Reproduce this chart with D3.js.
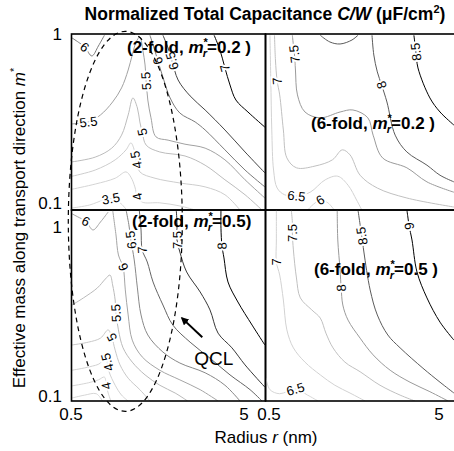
<!DOCTYPE html>
<html>
<head>
<meta charset="utf-8">
<script src="https://cdnjs.cloudflare.com/ajax/libs/d3/7.8.5/d3.min.js"></script>
<style>
  body { margin: 0; background: #fff; }
  svg text { font-family: "Liberation Sans", Arial, sans-serif; }
</style>
</head>
<body>
<div id="chart"></div>
<script>

// axis ticks
const rTicks = [0.5, 5];
const mTicks = [0.1, 1];

// contour lines: [radius r (nm), m*]
// (2-fold, m*r = 0.2)
const linesA = [
	{level: 3.5, pts: [[.507,.096],[.64,.100],[.77,.107],[.85,.109],[.96,.103],[1.05,.0934]]},
	{level: 4, pts: [[.507,.124],[.69,.133],[.90,.144],[1.04,.157],[1.11,.146],[1.17,.128],[1.21,.112],[1.29,.104],[1.63,.103],[2.13,.0987],[2.61,.0934]]},
	{level: 4.5, pts: [[.507,.148],[.69,.161],[.90,.185],[1.04,.212],[1.11,.233],[1.16,.212],[1.19,.185],[1.25,.157],[1.53,.144],[2.13,.135],[2.98,.128],[3.88,.115],[4.74,.0934]]},
	{level: 5, pts: [[.507,.180],[.69,.192],[.86,.217],[.98,.259],[1.07,.341],[1.14,.430],[1.21,.375],[1.25,.310],[1.29,.270],[1.36,.226],[1.63,.206],[2.28,.195],[2.98,.172],[3.88,.141],[5.07,.115],[6.35,.0934]]},
	{level: 5.5, pts: [[.507,.302],[.63,.310],[.74,.341],[.87,.407],[.98,.493],[1.07,.629],[1.13,.772],[1.19,.922],[1.25,.987],[1.30,.827],[1.34,.674],[1.36,.542],[1.39,.418],[1.45,.328],[1.55,.253],[1.82,.242],[2.28,.229],[2.98,.217],[3.88,.185],[5.07,.141],[6.6,.110]]},
	{level: 6, pts: [[.507,.974],[.56,.909],[.60,.861],[.66,.762],[.72,.873],[.78,1.01]]},
	{level: 6, pts: [[1.43,1.01],[1.51,.850],[1.59,.712],[1.72,.549],[1.87,.430],[2.13,.350],[2.61,.310],[2.98,.278],[3.88,.212],[5.07,.161],[6.6,.128]]},
	{level: 6.5, pts: [[1.70,1.01],[1.82,.850],[1.92,.712],[2.08,.549],[2.44,.442],[2.98,.365],[3.88,.278],[5.07,.206],[6.6,.155]]},
	{level: 7, pts: [[3.36,1.01],[3.63,.827],[3.88,.647],[4.15,.513],[4.49,.418],[5.27,.355],[6.6,.289]]}
];
const labelsA = [[3.5,.85,.109],[4,1.21,.112],[4.5,1.19,.185],[5,1.29,.270],[5.5,.63,.310],[5.5,1.36,.542],[6,.60,.861],[6,1.59,.712],[6.5,1.92,.712],[7,3.88,.647]];

// (6-fold, m*r = 0.2)
const linesB = [
	{level: 6, pts: [[.87,.0934],[.94,.101],[1.03,.107],[1.14,.103],[1.24,.0934]]},
	{level: 6.5, pts: [[.527,1.01],[.533,.549],[.54,.278],[.553,.161],[.58,.126],[.64,.115],[.75,.113],[.90,.119],[1.10,.141],[1.30,.148],[1.49,.131],[1.67,.107],[1.79,.0934]]},
	{level: 7, pts: [[.56,1.01],[.567,.721],[.58,.542],[.60,.448],[.63,.278],[.66,.190],[.75,.166],[.96,.170],[1.21,.185],[1.38,.212],[1.53,.198],[1.75,.150],[2.2,.126],[3.26,.110],[6.1,.0973]]},
	{level: 7.5, pts: [[.71,1.01],[.72,.885],[.73,.783],[.74,.629],[.76,.448],[.84,.355],[1.03,.328],[1.34,.355],[1.59,.365],[1.94,.328],[2.08,.259],[2.36,.190],[3.26,.166],[4.26,.137],[6.1,.119]]},
	{level: 8, pts: [[1.03,1.01],[1.17,.922],[1.34,.897],[1.57,.947],[1.70,1.01]]},
	{level: 8, pts: [[2.05,1.01],[2.1,.772],[2.2,.613],[2.33,.513],[2.5,.407],[2.79,.259],[3.26,.206],[4.26,.172],[5.07,.150],[6.1,.137]]},
	{level: 8.5, pts: [[3.58,1.01],[3.68,.805],[3.78,.647],[4.43,.430],[5.07,.355],[6.1,.297]]}
];
const labelsB = [[6,1.03,.107],[6.5,.75,.113],[7,.58,.542],[7.5,.73,.783],[8,2.33,.513],[8.5,3.68,.805]];

// (2-fold, m*r = 0.5)
const linesC = [
	{level: 3.5, pts: [[.507,.100],[.60,.104],[.70,.106],[.76,.096]]},
	{level: 4, pts: [[.507,.118],[.63,.123],[.72,.128],[.78,.133],[.80,.118],[.82,.107],[.85,.096]]},
	{level: 4.5, pts: [[.507,.146],[.64,.153],[.74,.161],[.79,.180],[.81,.163],[.83,.143],[.90,.119],[.98,.104],[1.07,.096]]},
	{level: 5, pts: [[.507,.206],[.63,.214],[.74,.226],[.82,.253],[.86,.229],[.90,.192],[.96,.157],[1.07,.131],[1.25,.112],[1.43,.096]]},
	{level: 5.5, pts: [[.507,.355],[.59,.391],[.71,.448],[.79,.506],[.84,.534],[.87,.467],[.90,.380],[.91,.318],[.94,.253],[1.0,.198],[1.13,.163],[1.34,.137],[1.63,.119],[2.0,.107],[2.36,.096]]},
	{level: 6, pts: [[.507,1.23],[.547,1.18],[.61,1.11],[.67,.987],[.74,1.10],[.82,1.26]]},
	{level: 6, pts: [[.87,1.30],[.91,.922],[.94,.702],[1.0,.596],[1.03,.436],[1.07,.310],[1.13,.220],[1.29,.175],[1.63,.146],[2.13,.128],[2.79,.112],[3.54,.096]]},
	{level: 6.5, pts: [[1.04,1.30],[1.08,1.06],[1.11,.861],[1.16,.656],[1.21,.448],[1.27,.310],[1.39,.236],[1.70,.187],[2.13,.161],[2.98,.141],[3.88,.119],[4.74,.096]]},
	{level: 7, pts: [[1.24,1.30],[1.27,.987],[1.29,.752],[1.38,.638],[1.49,.486],[1.70,.355],[1.94,.270],[2.44,.214],[3.18,.172],[4.15,.137],[5.42,.112],[6.35,.096]]},
	{level: 7.5, pts: [[2.03,1.30],[2.05,1.06],[2.05,.861],[2.13,.731],[2.33,.557],[2.79,.424],[3.18,.332],[3.54,.242],[4.26,.198],[5.07,.157],[6.6,.116]]},
	{level: 8, pts: [[3.68,1.30],[3.68,1.01],[3.73,.794],[3.83,.674],[4.04,.486],[4.61,.370],[5.57,.270],[6.6,.206]]}
];
const labelsC = [[4,.80,.118],[4.5,.81,.163],[5,.86,.229],[5.5,.91,.318],[6,.61,1.11],[6,1.0,.596],[6.5,1.11,.861],[7,1.29,.752],[7.5,2.05,.861],[8,3.73,.794]];

// (6-fold, m*r = 0.5)
const linesD = [
	{level: 6.5, pts: [[.50,.131],[.527,.112],[.60,.106],[.74,.113],[.87,.104],[1.0,.096]]},
	{level: 7, pts: [[.574,1.30],[.574,.861],[.574,.638],[.60,.534],[.63,.380],[.66,.253],[.72,.198],[.84,.163],[1.03,.137],[1.25,.119],[1.53,.107],[1.87,.096]]},
	{level: 7.5, pts: [[.70,1.30],[.71,1.10],[.71,.947],[.72,.752],[.75,.513],[.79,.391],[.92,.332],[1.03,.297],[1.11,.242],[1.22,.198],[1.43,.163],[1.75,.143],[2.28,.119],[2.98,.104],[3.63,.096]]},
	{level: 8, pts: [[1.29,1.30],[1.30,.861],[1.34,.573],[1.36,.448],[1.39,.355],[1.49,.289],[1.75,.226],[2.08,.180],[2.61,.146],[3.40,.124],[4.43,.109],[5.64,.096]]},
	{level: 8.5, pts: [[1.70,1.30],[1.75,1.06],[1.79,.909],[1.84,.731],[2.0,.436],[2.2,.310],[2.53,.236],[2.98,.198],[4.04,.150],[5.07,.124],[6.1,.107]]},
	{level: 9, pts: [[3.26,1.30],[3.31,1.16],[3.36,1.04],[3.49,.861],[3.73,.557],[4.26,.391],[5.07,.281],[6.1,.220]]}
];
const labelsD = [[6.5,.74,.113],[7,.574,.638],[7.5,.71,.947],[8,1.36,.448],[8.5,1.79,.909],[9,3.36,1.04]];


/*
 * ContourPanel - one of the four log-log panels
 */
class ContourPanel {

	constructor(svg, cfg) {
		this.svg = svg;
		this.cfg = cfg;
		this.initVis();
	}

	initVis() {
		let vis = this;
		let c = vis.cfg;

		// log scales, one decade = 173 px in r and 169 px in m
		vis.x = d3.scaleLog().domain([0.5, 5]).range([c.x0, c.x0 + 173]);
		vis.y = d3.scaleLog().domain([0.1, 1]).range([c.y0, c.y0 - 169]);

		// grey map per panel: low levels light, top level black
		let t = d3.scaleLinear().domain(c.range).range([0, 1]).clamp(true);
		let grey = d3.interpolateRgb("#d6d6d6", "#000");
		vis.color = lv => grey(Math.pow(t(lv), 2.5));

		vis.svg.append("clipPath").attr("id", "clip" + c.id)
			.append("rect")
			.attr("x", c.box[0]).attr("y", c.box[1])
			.attr("width", c.box[2] - c.box[0]).attr("height", c.box[3] - c.box[1]);

		vis.g = vis.svg.append("g").attr("clip-path", "url(#clip" + c.id + ")");

		vis.line = d3.line()
			.x(d => vis.x(d[0]))
			.y(d => vis.y(d[1]))
			.curve(d3.curveCatmullRom.alpha(0.5));

		vis.updateVis();
	}

	updateVis() {
		let vis = this;
		let c = vis.cfg;

		vis.g.selectAll(".cline")
			.data(c.lines)
			.enter()
			.append("path")
			.attr("class", "cline")
			.attr("d", d => vis.line(d.pts))
			.attr("fill", "none")
			.attr("stroke", d => vis.color(d.level))
			.attr("stroke-width", 1);

		vis.g.selectAll(".clabel")
			.data(c.labels)
			.enter()
			.append("text")
			.attr("class", "clabel")
			.attr("transform", d => {
				let px = vis.x(d[1]), py = vis.y(d[2]);
				return "translate(" + px + "," + py + ") rotate(" + vis.labelAngle(d, px, py) + ")";
			})
			.attr("text-anchor", "middle")
			.attr("dy", "0.35em")
			.attr("font-size", 13)
			.attr("fill", "#000")
			.attr("stroke", "#fff")
			.attr("stroke-width", 4)
			.attr("paint-order", "stroke")
			.text(d => d[0]);

		// panel frame
		vis.svg.append("rect")
			.attr("x", c.box[0]).attr("y", c.box[1])
			.attr("width", c.box[2] - c.box[0]).attr("height", c.box[3] - c.box[1])
			.attr("fill", "none")
			.attr("stroke", "#000")
			.attr("stroke-width", 1.6);

		// panel caption
		let tt = vis.svg.append("text")
			.attr("x", c.title[0]).attr("y", c.title[1])
			.attr("font-weight", "bold")
			.attr("font-size", 17);
		tt.append("tspan").text("(" + c.title[2] + ", ");
		tt.append("tspan").attr("font-style", "italic").text("m");
		tt.append("tspan").attr("font-size", 11).attr("dy", -7).text("*");
		tt.append("tspan").attr("font-size", 11).attr("font-style", "italic").attr("dx", -5).attr("dy", 11).text("r");
		tt.append("tspan").attr("dy", -4).text(c.title[3]);
	}

	// direction of the contour under a label (nearest segment, screen space)
	labelAngle(lab, px, py) {
		let vis = this;
		let best = Infinity, ang = 0;
		vis.cfg.lines.filter(l => l.level === lab[0]).forEach(l => {
			for (let i = 0; i < l.pts.length - 1; i++) {
				let ax = vis.x(l.pts[i][0]), ay = vis.y(l.pts[i][1]);
				let bx = vis.x(l.pts[i + 1][0]), by = vis.y(l.pts[i + 1][1]);
				let dx = bx - ax, dy = by - ay;
				let t = Math.max(0, Math.min(1, ((px - ax) * dx + (py - ay) * dy) / (dx * dx + dy * dy)));
				let dd = Math.hypot(ax + t * dx - px, ay + t * dy - py);
				if (dd < best) { best = dd; ang = Math.atan2(dy, dx) * 180 / Math.PI; }
			}
		});
		if (ang > 90) ang -= 180;
		if (ang < -90) ang += 180;
		if (ang > 55) ang -= 180;
		return ang;
	}
}


let svg = d3.select("#chart").append("svg")
	.attr("width", 454)
	.attr("height", 451);

let panelCfg = [
	{id: "A", lines: linesA, labels: labelsA, range: [3.5, 7], x0: 71, y0: 205, box: [71.5, 34, 265.5, 210], title: [127, 53, "2-fold", "=0.2 )"]},
	{id: "B", lines: linesB, labels: labelsB, range: [6, 8.5], x0: 266, y0: 205, box: [265.5, 34, 462, 210], title: [311, 129, "6-fold", "=0.2 )"]},
	{id: "C", lines: linesC, labels: labelsC, range: [3.5, 8], x0: 71, y0: 398, box: [71.5, 210, 265.5, 401], title: [132, 227, "2-fold", "=0.5)"]},
	{id: "D", lines: linesD, labels: labelsD, range: [6.5, 9], x0: 266, y0: 398, box: [265.5, 210, 462, 401], title: [314, 275, "6-fold", "=0.5 )"]}
];

let panels = panelCfg.map(c => new ContourPanel(svg, c));

// y tick labels (left panels)
[panels[0], panels[2]].forEach(p => {
	svg.selectAll(null)
		.data(mTicks)
		.enter()
		.append("text")
		.attr("x", 62)
		.attr("y", d => p.y(d) - 2)
		.attr("dy", "0.35em")
		.attr("text-anchor", "end")
		.attr("font-size", 17)
		.text(d => d);
});

// x tick labels (bottom panels)
[panels[2], panels[3]].forEach((p, i) => {
	svg.selectAll(null)
		.data(rTicks)
		.enter()
		.append("text")
		.attr("x", d => p.x(d) + (i === 1 && d === 0.5 ? 3 : 0))
		.attr("y", 420)
		.attr("text-anchor", "middle")
		.attr("font-size", 17)
		.text(d => d);
});

// dashed ellipse around the QCL region
let pc = panels[2];
svg.append("ellipse")
	.attr("cx", pc.x(1.03))
	.attr("cy", pc.y(1.11))
	.attr("rx", 57)
	.attr("ry", 190)
	.attr("fill", "none")
	.attr("stroke", "#000")
	.attr("stroke-width", 1.2)
	.attr("stroke-dasharray", "5,4");

// QCL arrow
svg.append("defs").append("marker")
	.attr("id", "head")
	.attr("viewBox", "0 0 10 10")
	.attr("refX", 8).attr("refY", 5)
	.attr("markerWidth", 4).attr("markerHeight", 4)
	.attr("orient", "auto")
	.append("path").attr("d", "M0,0L10,5L0,10z").attr("fill", "#000");

svg.append("line")
	.attr("x1", pc.x(2.87)).attr("y1", pc.y(0.229))
	.attr("x2", pc.x(2.19)).attr("y2", pc.y(0.297))
	.attr("stroke", "#000")
	.attr("stroke-width", 2)
	.attr("marker-end", "url(#head)");

svg.append("text")
	.attr("x", pc.x(2.58)).attr("y", pc.y(0.157))
	.attr("font-size", 19)
	.text("QCL");

// main title
let title = svg.append("text")
	.attr("x", 265).attr("y", 20)
	.attr("text-anchor", "middle")
	.attr("font-weight", "bold")
	.attr("font-size", 17.5);
title.append("tspan").text("Normalized Total Capacitance ");
title.append("tspan").attr("font-style", "italic").text("C/W");
title.append("tspan").text(" (μF/cm");
title.append("tspan").attr("font-size", 11).attr("dy", -7).text("2");
title.append("tspan").attr("dy", 7).text(")");

// axis titles
let ylab = svg.append("text")
	.attr("transform", "translate(25,228) rotate(-90)")
	.attr("text-anchor", "middle")
	.attr("font-size", 17);
ylab.append("tspan").text("Effective mass along transport direction ");
ylab.append("tspan").attr("font-style", "italic").text("m");
ylab.append("tspan").attr("font-size", 11).attr("dy", -7).text("*");

let xlab = svg.append("text")
	.attr("x", 266).attr("y", 443)
	.attr("text-anchor", "middle")
	.attr("font-size", 17);
xlab.append("tspan").text("Radius ");
xlab.append("tspan").attr("font-style", "italic").text("r");
xlab.append("tspan").text(" (nm)");

</script>
</body>
</html>
